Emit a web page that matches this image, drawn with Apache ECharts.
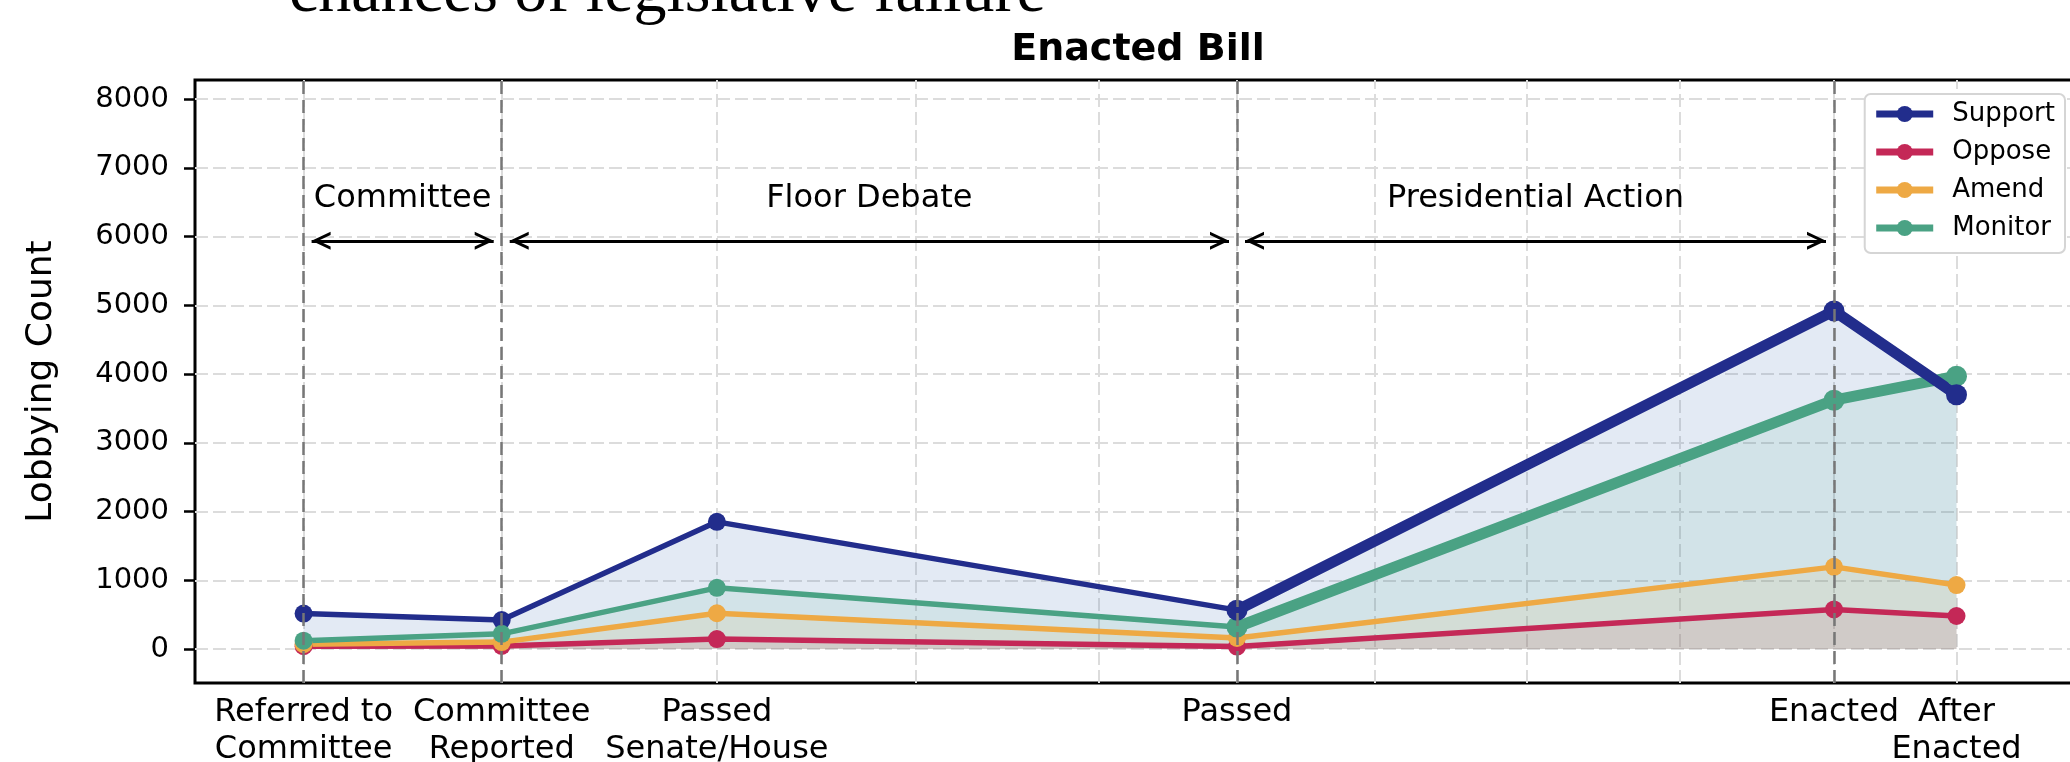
<!DOCTYPE html>
<html><head><meta charset="utf-8">
<script src="https://cdn.jsdelivr.net/npm/echarts@6/dist/echarts.min.js"></script>
<style>html,body{margin:0;padding:0;background:#fff}#c{width:2070px;height:762px}</style>
</head><body><div id="c"></div>
<script>
// ---- data ----
const stageLabels = ['Referred to\nCommittee', 'Committee\nReported', 'Passed\nSenate/House', 'Passed', 'Enacted', 'After\nEnacted'];
const stageX = [108.6, 306.7, 521.9, 1042, 1639, 1761.5];
const gridX = [108.6, 306.7, 521.9, 720.5, 904, 1042, 1180, 1332, 1485, 1639, 1761.5];
const yTicks = [0, 1000, 2000, 3000, 4000, 5000, 6000, 7000, 8000];
const seriesNames = ['Support', 'Oppose', 'Amend', 'Monitor'];
const support = [515, 420, 1850, 565, 4920, 3700];
const oppose = [40, 45, 145, 35, 575, 480];
const amend = [70, 100, 520, 160, 1195, 930];
const monitor = [120, 220, 890, 320, 3620, 3970];
const phaseNames = ['Committee', 'Floor Debate', 'Presidential Action'];
const phaseBounds = [[0, 1], [1, 3], [3, 4]];
const boundaryIdx = [0, 1, 3, 4];
const phaseArrowY = 5940;
const phaseLabelY = 6560;
const thickFrom = 3;

// ---- styles ----
const FONT = 'DejaVu Sans';
const colors = { Support: '#222d8c', Oppose: '#c42857', Amend: '#eea944', Monitor: '#4aa284' };
const fills = { Support: 'rgba(68,115,182,0.15)', Oppose: 'rgba(196,40,87,0.11)', Amend: 'rgba(238,169,68,0.11)', Monitor: 'rgba(74,162,132,0.11)' };
const values = { Support: support, Oppose: oppose, Amend: amend, Monitor: monitor };
const arrowPath = 'path://M-10,-19L-10,-19ZM28,-19L28,-19ZM28,19L28,19ZM0,19L9,0L18,19L14.8,19L9,6.76L3.2,19Z';
const shrink = 8;

const chart = echarts.init(document.getElementById('c'), null, { renderer: 'canvas' });

const series = [];
// light grid
series.push({
  type: 'line', data: [], z: 1, silent: true,
  markLine: {
    z: 1, silent: true, symbol: 'none', label: { show: false }, animation: false,
    lineStyle: { color: '#dcdcdc', width: 2, type: [13, 5] },
    data: yTicks.map(v => ({ yAxis: v })).concat(gridX.map(v => ({ xAxis: v })))
  }
});
// data lines
seriesNames.forEach(n => {
  series.push({
    name: n, type: 'line', z: 3,
    data: stageX.map((x, i) => [x, values[n][i]]),
    symbol: 'circle', symbolSize: 18,
    lineStyle: { width: 5.5, color: colors[n] },
    itemStyle: { color: colors[n] },
    areaStyle: { color: fills[n], opacity: 1 }
  });
});
// thick segments
['Monitor', 'Support'].forEach(n => {
  series.push({
    name: n + ' (late)', type: 'line', z: 4,
    data: stageX.slice(thickFrom).map((x, i) => [x, values[n][i + thickFrom]]),
    symbol: 'circle', symbolSize: 21,
    lineStyle: { width: 11, color: colors[n] },
    itemStyle: { color: colors[n] }
  });
});
// stage boundary lines
series.push({
  type: 'line', data: [], z: 10, silent: true,
  markLine: {
    z: 10, silent: true, symbol: 'none', label: { show: false }, animation: false,
    lineStyle: { color: '#777777', width: 2.5, type: [13, 6] },
    data: boundaryIdx.map(i => ({ xAxis: stageX[i] }))
  }
});
// phase arrows
series.push({
  type: 'line', data: [], z: 10, silent: true,
  markLine: {
    z: 10, silent: true, symbol: [arrowPath, arrowPath], symbolSize: 38, label: { show: false }, animation: false,
    lineStyle: { color: '#000', width: 3, type: 'solid' },
    data: phaseBounds.map(([a, b]) => [{ coord: [stageX[a] + shrink, phaseArrowY] }, { coord: [stageX[b] - shrink, phaseArrowY] }])
  }
});
// phase labels
series.push({
  type: 'scatter', z: 10, silent: true, symbolSize: 0,
  itemStyle: { opacity: 1 },
  data: phaseBounds.map(([a, b], k) => ({ value: [(stageX[a] + stageX[b]) / 2, phaseLabelY], name: phaseNames[k] })),
  label: { show: true, position: 'inside', formatter: '{b}', color: '#000', textBorderWidth: 0, fontSize: 32, fontFamily: FONT }
});

function labelAxis(indices, show) {
  return {
    type: 'value', min: 0, max: 1877, position: 'bottom', gridIndex: 0,
    axisLine: { show: false }, axisTick: { show: false }, splitLine: { show: false },
    axisLabel: {
      show: show, customValues: indices.map(i => stageX[i]), margin: 11, hideOverlap: false,
      color: '#000', fontFamily: FONT, fontSize: 32, lineHeight: 37,
      formatter: v => {
        let best = 0;
        stageX.forEach((x, i) => { if (Math.abs(x - v) < Math.abs(stageX[best] - v)) best = i; });
        return stageLabels[best];
      }
    }
  };
}

chart.setOption({
  animation: false,
  title: [
    { text: 'Enacted Bill', left: 1133, textAlign: 'center', top: 26,
      textStyle: { fontFamily: FONT, fontSize: 38, fontWeight: 'bold', color: '#000' } },
    { text: 'chances of legislative failure', left: 284, top: -44,
      textStyle: { fontFamily: 'Liberation Serif', fontSize: 66, fontWeight: 'normal', color: '#000' } }
  ],
  legend: {
    data: seriesNames, orient: 'vertical', right: 5, top: 94,
    padding: [7, 10, 12, 8], itemGap: 12, itemWidth: 57, itemHeight: 20,
    lineStyle: { width: 7 },
    borderColor: '#d5d5d5', borderWidth: 2, borderRadius: 6, backgroundColor: '#fff',
    textStyle: { fontFamily: FONT, fontSize: 26, lineHeight: 26, color: '#000', padding: [0, 0, 0, 14] }
  },
  grid: { left: 195, right: -2, top: 80, bottom: 79, outerBoundsMode: 'none', containLabel: false,
    show: true, borderColor: '#000', borderWidth: 3, backgroundColor: 'transparent' },
  xAxis: [labelAxis([0, 2, 4], true), labelAxis([1, 3, 5], true)],
  yAxis: {
    type: 'value', min: -495, max: 8280,
    name: 'Lobbying Count', nameLocation: 'middle', nameGap: 135,
    nameTextStyle: { fontFamily: FONT, fontSize: 36, color: '#000' },
    axisLine: { show: false }, splitLine: { show: false },
    axisTick: { show: true, customValues: yTicks, length: 11, lineStyle: { color: '#000', width: 2.5 } },
    axisLabel: { customValues: yTicks, margin: 26, hideOverlap: false, color: '#000', fontFamily: FONT, fontSize: 29,
      formatter: v => String(v) }
  },
  series: series
});
</script>
</body></html>
